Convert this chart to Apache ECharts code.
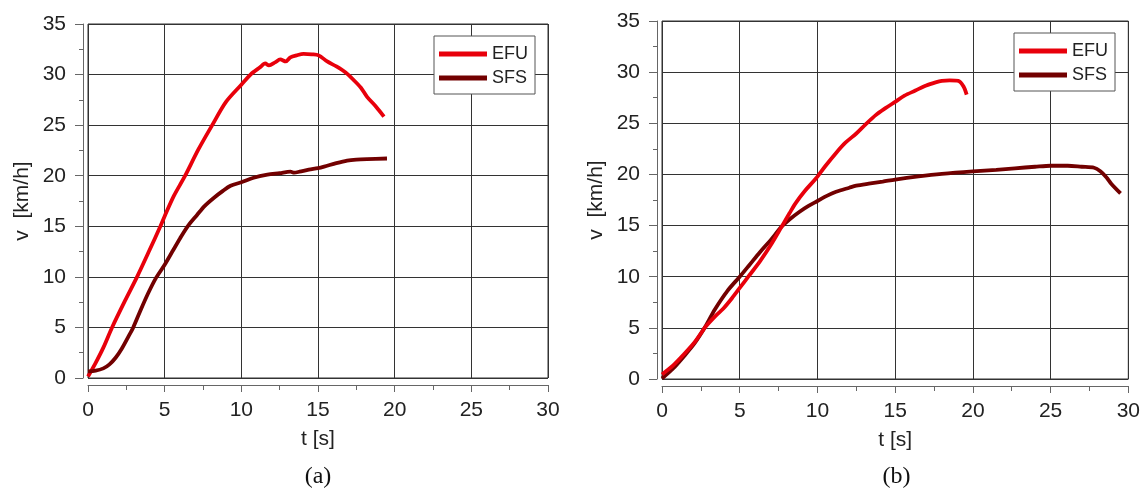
<!DOCTYPE html>
<html>
<head>
<meta charset="utf-8">
<script src="https://cdn.jsdelivr.net/npm/echarts@6/dist/echarts.min.js"></script>
<style>
  html, body { margin: 0; padding: 0; background: #fff; }
  #chart { width: 1143px; height: 492px; }
</style>
</head>
<body>
<div id="chart"></div>
<script>
// ---- Data ----
const seriesNames = ['EFU', 'SFS'];
const xTicks = [0, 5, 10, 15, 20, 25, 30];
const yTicks = [0, 5, 10, 15, 20, 25, 30, 35];
const captions = ['(a)', '(b)'];

// Panel (a)
const tA_EFU = [0, 0.5, 1.0, 1.57, 2.4, 3.2, 4.0, 4.72, 5.0, 5.6, 6.3, 7.2, 8.1, 9.0, 10.0, 10.6, 11.2, 11.56, 11.8, 12.2, 12.54, 12.9, 13.2, 13.6, 14.06, 14.6, 15.04, 15.6, 16.2, 16.8, 17.3, 17.8, 18.2, 18.8, 19.3];
const vA_EFU = [0.15, 1.5, 3.0, 5.0, 7.6, 10.0, 12.6, 15.0, 16.0, 18.0, 19.9, 22.6, 25.0, 27.3, 29.0, 30.0, 30.7, 31.1, 30.9, 31.2, 31.5, 31.3, 31.7, 31.9, 32.05, 32.0, 31.9, 31.3, 30.8, 30.2, 29.5, 28.7, 27.8, 26.8, 25.85];
const tA_SFS = [0, 0.5, 1.0, 1.4, 1.8, 2.2, 2.6, 2.95, 3.4, 3.9, 4.4, 5.0, 5.5, 6.0, 6.5, 7.1, 7.6, 8.2, 8.8, 9.3, 10.0, 10.8, 11.7, 12.5, 13.2, 13.45, 13.8, 14.4, 15.0, 15.4, 16.2, 16.9, 17.5, 18.2, 19.5];
const vA_SFS = [0.65, 0.72, 0.95, 1.35, 2.0, 2.9, 4.0, 5.0, 6.6, 8.3, 9.8, 11.2, 12.5, 13.8, 15.0, 16.1, 17.0, 17.8, 18.5, 19.0, 19.35, 19.8, 20.1, 20.25, 20.4, 20.3, 20.4, 20.6, 20.75, 20.9, 21.25, 21.5, 21.6, 21.65, 21.7];

// Panel (b)
const tB_EFU = [0, 0.7, 1.4, 2.1, 2.8, 3.4, 3.95, 4.5, 5.0, 5.6, 6.3, 7.0, 7.7, 8.2, 8.6, 9.2, 9.9, 10.5, 11.2, 11.8, 12.5, 13.1, 13.75, 14.4, 15.0, 15.6, 16.3, 17.0, 17.6, 18.0, 18.5, 19.07, 19.4, 19.6];
const vB_EFU = [0.45, 1.3, 2.4, 3.6, 5.1, 6.1, 6.9, 7.9, 8.9, 10.1, 11.5, 13.1, 14.9, 16.2, 17.2, 18.4, 19.6, 20.8, 22.1, 23.1, 24.0, 24.9, 25.8, 26.5, 27.1, 27.7, 28.2, 28.7, 29.0, 29.15, 29.2, 29.15, 28.6, 27.8];
const tB_SFS = [0, 0.7, 1.4, 2.1, 2.78, 3.4, 4.2, 5.0, 5.6, 6.3, 7.0, 7.7, 8.2, 8.85, 9.4, 10.0, 10.6, 11.2, 12.05, 12.5, 13.3, 14.2, 15.0, 16.5, 18.0, 20.0, 21.5, 22.7, 24.0, 25.0, 26.1, 27.0, 27.8, 28.2, 28.6, 28.9, 29.5];
const vB_SFS = [0.05, 1.0, 2.2, 3.5, 5.1, 6.8, 8.6, 10.0, 11.1, 12.4, 13.6, 14.9, 15.6, 16.35, 16.9, 17.4, 17.9, 18.3, 18.7, 18.9, 19.1, 19.3, 19.5, 19.8, 20.05, 20.3, 20.45, 20.6, 20.75, 20.85, 20.85, 20.75, 20.65, 20.3, 19.7, 19.1, 18.15];

// ---- Build ----
const pairs = (t, v) => t.map((x, i) => [x, v[i]]);
const colors = { EFU: '#e8000b', SFS: '#720000' };
const font = '"Liberation Sans", Arial, sans-serif';
const grids = [
  { left: 88, top: 24, width: 460, height: 354 },
  { left: 662, top: 21, width: 469, height: 358 }
];

function xAxisFor(i) {
  return {
    gridIndex: i, type: 'value', min: xTicks[0], max: xTicks[xTicks.length - 1], interval: 5,
    offset: 7,
    name: 't [s]', nameLocation: 'middle', nameGap: 44,
    nameTextStyle: { fontFamily: font, fontSize: 21, color: '#222' },
    axisLine: { show: true, onZero: false, lineStyle: { color: '#666', width: 1 } },
    axisTick: { show: true, length: 7, lineStyle: { color: '#666' } },
    minorTick: { show: true, splitNumber: 2, length: 5, lineStyle: { color: '#666' } },
    splitLine: { show: true, lineStyle: { color: '#333', width: 1 } },
    axisLabel: { fontFamily: font, fontSize: 21, color: '#222', margin: 15 }
  };
}
function yAxisFor(i) {
  return {
    gridIndex: i, type: 'value', min: yTicks[0], max: yTicks[yTicks.length - 1], interval: 5,
    offset: 5,
    name: 'v  [km/h]', nameLocation: 'middle', nameGap: 50, nameRotate: 90,
    nameTextStyle: { fontFamily: font, fontSize: 21, color: '#222' },
    axisLine: { show: true, onZero: false, lineStyle: { color: '#666', width: 1 } },
    axisTick: { show: true, length: 8, lineStyle: { color: '#666' } },
    minorTick: { show: true, splitNumber: 2, length: 4, lineStyle: { color: '#666' } },
    splitLine: { show: true, lineStyle: { color: '#333', width: 1 } },
    axisLabel: { fontFamily: font, fontSize: 21, color: '#222', margin: 17 }
  };
}
function lineSeries(name, data, gi) {
  return {
    name, type: 'line', xAxisIndex: gi, yAxisIndex: gi, data,
    showSymbol: false, symbol: 'none', smooth: 0.3,
    lineStyle: { color: colors[name], width: 3.8 },
    itemStyle: { color: colors[name] },
    animation: false
  };
}
function legendFor(left, top) {
  return {
    left, top, orient: 'vertical',
    data: seriesNames.map(n => ({ name: n, icon: 'rect' })),
    itemWidth: 48, itemHeight: 5, itemGap: 6, itemTextGap: 5,
    padding: [9, 7, 7, 5],
    backgroundColor: '#fff', borderColor: '#555', borderWidth: 1, borderRadius: 0,
    textStyle: { fontFamily: font, fontSize: 18, color: '#222' },
    selectedMode: false
  };
}

const chart = echarts.init(document.getElementById('chart'), null, { renderer: 'canvas' });
chart.setOption({
  animation: false,
  backgroundColor: '#fff',
  grid: grids.map(g => Object.assign({ show: true, borderColor: '#333', borderWidth: 1, backgroundColor: 'transparent' }, g)),
  xAxis: [xAxisFor(0), xAxisFor(1)],
  yAxis: [yAxisFor(0), yAxisFor(1)],
  legend: [legendFor(434, 36), legendFor(1014, 33)],
  series: [
    lineSeries('EFU', pairs(tA_EFU, vA_EFU), 0),
    lineSeries('SFS', pairs(tA_SFS, vA_SFS), 0),
    lineSeries('SFS', pairs(tB_SFS, vB_SFS), 1),
    lineSeries('EFU', pairs(tB_EFU, vB_EFU), 1)
  ],
  graphic: [
    { type: 'text', x: grids[0].left + grids[0].width / 2, y: 465,
      style: { text: captions[0], font: '24px "Liberation Serif", "Times New Roman", serif', fill: '#111', textAlign: 'center' } },
    { type: 'text', x: grids[1].left + grids[1].width / 2, y: 465,
      style: { text: captions[1], font: '24px "Liberation Serif", "Times New Roman", serif', fill: '#111', textAlign: 'center' } }
  ]
});
</script>
</body>
</html>
